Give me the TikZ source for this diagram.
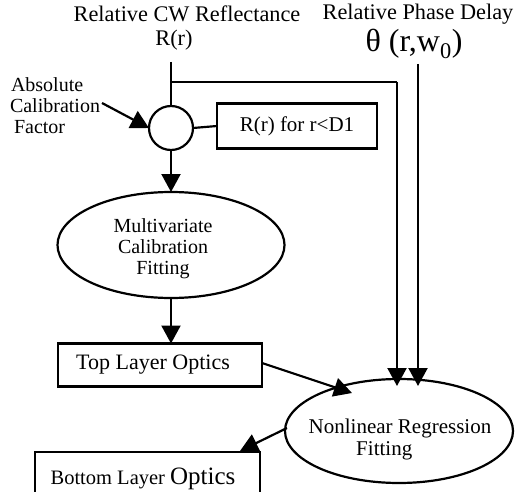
\documentclass[tikz,border=0pt]{standalone}
\usepackage{fontspec}
\setmainfont{Liberation Serif}
\usetikzlibrary{arrows.meta,shapes.geometric}
\begin{document}
\begin{tikzpicture}[x=1pt,y=-1pt,
  every node/.style={inner sep=0pt,outer sep=0pt},
  lbl/.style={font=\fontsize{20}{23}\selectfont},
  box/.style={draw,line width=2.2pt,rectangle,font=\fontsize{21}{24}\selectfont},
  oval/.style={draw,line width=2.2pt,ellipse},
  ovaltext/.style={font=\fontsize{20}{21}\selectfont,align=center},
  ln/.style={line width=2.2pt},
  arr/.style={line width=2.2pt,-{Triangle[length=18pt,width=19pt]}}]
\useasboundingbox (0,0) rectangle (522,492);
% titles
\node[lbl,font=\fontsize{22.3}{24}\selectfont] (tR) at (187,14) {Relative CW Reflectance};
\node[lbl,font=\fontsize{22.3}{24}\selectfont] (tRr) at (174,40) {R(r)};
\node[lbl,font=\fontsize{22.3}{24}\selectfont] (tP) at (418,14) {Relative Phase Delay};
\node[lbl,font=\fontsize{32}{34}\selectfont] (tth) at (414,44) {θ (r,w\textsubscript{0})};
% absolute calibration factor
\node[lbl,anchor=west] (abs1) at (11,85) {Absolute};
\node[lbl,anchor=west] (abs2) at (10,106) {Calibration};
\node[lbl,anchor=west] (abs3) at (14,127) {Factor};
% circle
\node[draw,circle,line width=2.2pt,minimum size=44pt] (c) at (171,128) {};
\node[box,minimum width=160pt,minimum height=45pt] (rd) at (297,126) {R(r) for r<D1};
% multivariate
\node[oval,minimum width=227pt,minimum height=106pt] (mv) at (171,245) {};
\node[ovaltext] (mvt) at (163,249) {Multivariate\\Calibration\\Fitting};
% top layer
\node[box,font=\fontsize{22}{24}\selectfont,minimum width=204pt,minimum height=43pt] (top) at (160,365) {\hspace*{-14pt}Top Layer Optics};
% nonlinear
\node[oval,minimum width=228pt,minimum height=104pt] (nl) at (399,431) {};
\node[ovaltext,font=\fontsize{21}{22}\selectfont] (nlt) at (400,439) {Nonlinear Regression\\\hspace*{-1.5em}Fitting};
% bottom
\node[box,minimum width=225pt,minimum height=70pt,anchor=north west] (bot) at (35,452) {};
\node[font=\fontsize{20.5}{22}\selectfont] (bott) at (143,479) {Bottom Layer {\fontsize{25}{26}\selectfont Optics}};
% coordinates
\coordinate (j) at (171,82);
\coordinate (k1) at (397,82);
\coordinate (e1) at (397,386);
\coordinate (k2) at (418,64);
\coordinate (e2) at (418,386);
\coordinate (rt) at (171,62);
\coordinate (abse) at (102,103);
% connectors
\draw[ln] (rt) -- (c.north);
\draw[ln] (j) -- (k1);
\draw[arr] (k1) -- (e1);
\draw[arr] (k2) -- (e2);
\draw[arr] (abse) -- (c.west);
\draw[ln] (c.east) -- (rd.west);
\draw[arr] (c.south) -- (mv.north);
\draw[arr] (mv.south) -- (mv.south |- top.north);
\draw[arr] (top.east |- 0,363) -- (352,393);
\draw[arr] (287,428) -- (240,451);
\end{tikzpicture}
\end{document}
